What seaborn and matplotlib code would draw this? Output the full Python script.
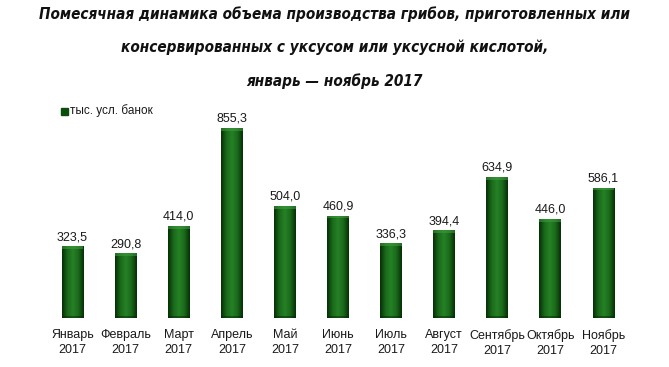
import numpy as np
import pandas as pd
import matplotlib
matplotlib.use("Agg")
import matplotlib.pyplot as plt
import seaborn as sns
from matplotlib.colors import LinearSegmentedColormap
from matplotlib.patches import Rectangle
from matplotlib import font_manager as fm

months = ["Январь", "Февраль", "Март", "Апрель", "Май", "Июнь", "Июль",
          "Август", "Сентябрь", "Октябрь", "Ноябрь"]
year = "2017"
values = [323.5, 290.8, 414.0, 855.3, 504.0, 460.9, 336.3, 394.4, 634.9, 446.0, 586.1]
series_name = "тыс. усл. банок"
title = ("Помесячная динамика объема производства грибов, приготовленных или\n"
         "консервированных с уксусом или уксусной кислотой,\n"
         "январь — ноябрь 2017")

sns.set_theme(style="white")
plt.rcParams['font.family'] = ['Liberation Sans', 'DejaVu Sans']

labels = [f"{m}\n{year}" for m in months]
df = pd.DataFrame({"month": labels, "value": values})

fig = plt.figure(figsize=(6.69, 3.67), dpi=100)
ax = fig.add_axes([46/669, 49/367, 584/669, 200/367])
sns.barplot(data=df, x="month", y="value", color="#1b6b1b", width=0.41,
            ax=ax, saturation=1, edgecolor="none")
ax.set_ylim(0, 900)
ax.set_xlim(-0.5, len(values) - 0.5)

cmap = LinearSegmentedColormap.from_list(
    "g", ["#072f07", "#1a6a1a", "#268226", "#1a6a1a", "#072f07"])
grad = np.linspace(0, 1, 64).reshape(1, -1)
for p in ax.patches:
    x0, y0 = p.get_x(), p.get_y()
    w, h = p.get_width(), p.get_height()
    im = ax.imshow(grad, cmap=cmap, aspect="auto",
                   extent=(x0, x0 + w, y0, y0 + h), zorder=p.get_zorder() + 0.1)
    im.set_clip_path(p)
    ax.add_patch(Rectangle((x0, y0 + h - 12), w, 12, color="#3f9f3f",
                           alpha=0.55, zorder=p.get_zorder() + 0.2, lw=0))
    ax.add_patch(Rectangle((x0, y0), w, 8, color="#062806",
                           alpha=0.5, zorder=p.get_zorder() + 0.2, lw=0))

for i, v in enumerate(values):
    ax.text(i, v + 14, f"{v:.1f}".replace(".", ","), ha="center", va="bottom",
            fontsize=9, color="#1a1a1a")

ax.set_xlabel("")
ax.set_ylabel("")
ax.set_yticks([])
ax.tick_params(axis="x", length=0, labelsize=9, pad=8, colors="#1a1a1a")
for t in ax.get_xticklabels():
    t.set_linespacing(1.3)
for s in ax.spines.values():
    s.set_visible(False)

tp = fm.FontProperties(family=['DejaVu Sans'], stretch='condensed',
                       weight='bold', style='italic', size=11)
fig.text(0.5, 0.982, title, ha="center", va="top", fontproperties=tp,
         linespacing=2.4, color="#111111")

fig.patches.append(Rectangle((61/669, 1 - 115/367), 7/669, 7/367,
                             transform=fig.transFigure, color="#0b4d0b"))
fig.text(70/669, 1 - 111/367, series_name, ha="left", va="center", fontsize=8.5,
         color="#1a1a1a")

fig.savefig("out.png", dpi=100)
